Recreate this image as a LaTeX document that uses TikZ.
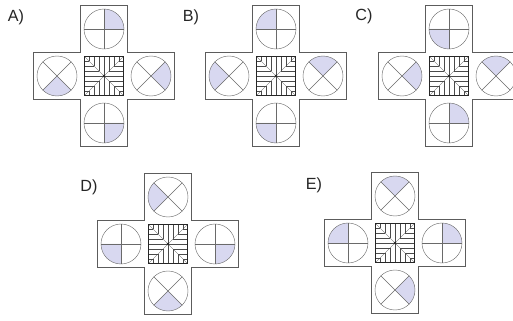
\documentclass[tikz,border=0pt]{standalone}
\usepackage{fontspec}
\setmainfont{Liberation Sans}
\usepackage{xcolor}
\usetikzlibrary{calc}
\definecolor{figshade}{HTML}{D8D8F0}
\definecolor{figring}{HTML}{6A6A6A}
\definecolor{figedge}{HTML}{5C5C5C}
\definecolor{figink}{HTML}{262626}
\definecolor{fighatch}{HTML}{4A4A4A}

% circle with a plus, quadrant from #1 to #1+90 shaded
\newcommand{\pcirc}[1]{%
  \fill[figshade] (0,0) -- (#1:20) arc (#1:#1+90:20) -- cycle;
  \draw[ring] (0,0) circle (20);
  \draw[ring] (-20,0) -- (20,0) (0,-20) -- (0,20);}
% circle with an X, wedge from #1 to #1+90 shaded
\newcommand{\xcirc}[1]{%
  \fill[figshade] (0,0) -- (#1:20) arc (#1:#1+90:20) -- cycle;
  \draw[ring] (0,0) circle (20);
  \draw[ring] (45:20) -- (225:20) (135:20) -- (315:20);}
% one answer: name, x, y, top, left, right, bottom
\newcommand{\panel}[7]{%
  \coordinate (#1) at (#2,#3);
  \begin{scope}[shift={(#1)}]
    \draw[crossline] (-23.5,70.5) -- (23.5,70.5) -- (23.5,23.5) -- (70.5,23.5)
      -- (70.5,-23.5) -- (23.5,-23.5) -- (23.5,-70.5) -- (-23.5,-70.5)
      -- (-23.5,-23.5) -- (-70.5,-23.5) -- (-70.5,23.5) -- (-23.5,23.5) -- cycle;
    \foreach \k in {-15,-10,...,15} {
      \draw[hatch] (\k,19.5) -- (\k,{abs(\k)});
      \draw[hatch] (\k,-19.5) -- (\k,{-abs(\k)});
      \draw[hatch] (19.5,\k) -- ({abs(\k)},\k);
      \draw[hatch] (-19.5,\k) -- ({-abs(\k)},\k);
    }
    \draw[hatch] (-19.5,-19.5) -- (19.5,19.5) (-19.5,19.5) -- (19.5,-19.5);
    \draw[centre] (-19.5,-19.5) rectangle (19.5,19.5);
    \fill[figink] (0,0) circle (1.3);
    \begin{scope}[shift={(0,47)}] #4 \end{scope}
    \begin{scope}[shift={(-47,0)}] #5 \end{scope}
    \begin{scope}[shift={(47,0)}] #6 \end{scope}
    \begin{scope}[shift={(0,-47)}] #7 \end{scope}
  \end{scope}}

\begin{document}
\begin{tikzpicture}[x=0.5mm, y=0.5mm,
  ring/.style={draw=figring, line width=0.6pt},
  crossline/.style={draw=figedge, fill=white, line width=0.6pt},
  hatch/.style={draw=fighatch, line width=0.35pt},
  centre/.style={draw=figink, line width=0.8pt},
  lbl/.style={font=\fontsize{23}{26}\selectfont, text=figink, inner sep=0pt}]
\clip (0,0) rectangle (513,320);
\fill[white] (0,0) rectangle (513,320);

\panel{A}{104}{244}{\pcirc{0}}{\xcirc{225}}{\xcirc{-45}}{\pcirc{270}}
\panel{B}{276}{244}{\pcirc{90}}{\xcirc{135}}{\xcirc{45}}{\pcirc{180}}
\panel{C}{449}{244}{\pcirc{180}}{\xcirc{-45}}{\xcirc{45}}{\pcirc{0}}
\panel{D}{168}{76}{\xcirc{135}}{\pcirc{180}}{\pcirc{270}}{\xcirc{225}}
\panel{E}{395}{77}{\xcirc{45}}{\pcirc{90}}{\pcirc{0}}{\xcirc{-45}}

\node[lbl] (labA) at (16,303) {A)};
\node[lbl] (labB) at (191,303) {B)};
\node[lbl] (labC) at (364,304) {C)};
\node[lbl] (labD) at (89,133) {D)};
\node[lbl] (labE) at (314,135) {E)};
\end{tikzpicture}
\end{document}
